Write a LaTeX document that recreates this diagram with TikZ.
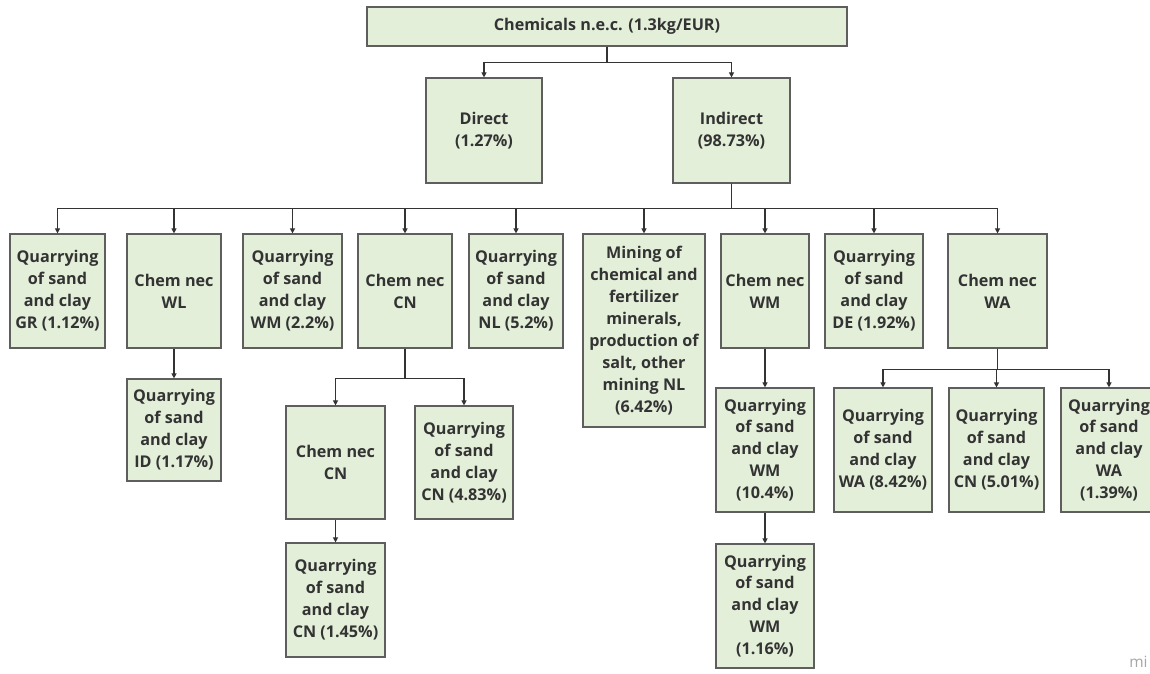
\documentclass[tikz,border=0pt]{standalone}
\usepackage{fontspec}
\setmainfont{Open Sans}
\usetikzlibrary{arrows.meta}
\definecolor{boxfill}{HTML}{E3EFD9}
\definecolor{boxline}{HTML}{5E5E5E}
\definecolor{txt}{HTML}{333333}
\begin{document}
\begin{tikzpicture}[
  x=0.025cm, y=-0.025cm,
  line width=0.85pt,
  every node/.style={font=\fontsize{11.5}{15.6}\selectfont\bfseries, text=txt},
  box/.style 2 args={draw=boxline, fill=boxfill, inner sep=0pt, align=center,
    minimum width=#1*0.025cm, minimum height=#2*0.025cm},
  arr/.style={draw=txt, -{Triangle[length=3.6pt,width=3.6pt]}}
]
\fill[white] (0,0) rectangle (1150,673);
\useasboundingbox (0,0) rectangle (1150,673);
% top and first split
\node[box={480}{39}] (top) at (607,26.5) {Chemicals n.e.c. (1.3kg/EUR)};
\node[box={116}{105}] (direct) at (484,130.5) {Direct\\(1.27\%)};
\node[box={117}{105}] (indirect) at (731.5,130.5) {Indirect\\(98.73\%)};
% second level
\node[box={95}{114}] (gr) at (57.5,291) {Quarrying\\of sand\\and clay\\GR (1.12\%)};
\node[box={94}{114}] (wl) at (174,291) {Chem nec\\WL};
\node[box={99}{114}] (wm) at (292.5,291) {Quarrying\\of sand\\and clay\\WM (2.2\%)};
\node[box={94}{114}] (cn) at (405,291) {Chem nec\\CN};
\node[box={94}{114}] (nl) at (516,291) {Quarrying\\of sand\\and clay\\NL (5.2\%)};
\node[box={122}{193}] (mining) at (644,330.5)
  {Mining of\\chemical and\\fertilizer\\minerals,\\production of\\salt, other\\mining NL\\(6.42\%)};
\node[box={88}{114}] (cwm) at (765,291) {Chem nec\\WM};
\node[box={98}{114}] (de) at (874,291) {Quarrying\\of sand\\and clay\\DE (1.92\%)};
\node[box={99}{114}] (cwa) at (997.5,291) {Chem nec\\WA};
% third level
\node[box={94}{102}] (id) at (174,430) {Quarrying\\of sand\\and clay\\ID (1.17\%)};
\node[box={99}{113}] (ccn) at (335.5,462.5) {Chem nec\\CN};
\node[box={98}{113}] (qcn) at (464,462.5) {Quarrying\\of sand\\and clay\\CN (4.83\%)};
\node[box={99}{114}] (qcn2) at (335.5,600) {Quarrying\\of sand\\and clay\\CN (1.45\%)};
\node[box={98}{124}] (qwm) at (765,450) {Quarrying\\of sand\\and clay\\WM\\(10.4\%)};
\node[box={98}{124}] (qwm2) at (765,606) {Quarrying\\of sand\\and clay\\WM\\(1.16\%)};
\node[box={98}{124}] (wa1) at (883,450) {Quarrying\\of sand\\and clay\\WA (8.42\%)};
\node[box={95}{124}] (wa2) at (996.5,450) {Quarrying\\of sand\\and clay\\CN (5.01\%)};
\node[box={96}{124}] (wa3) at (1109,450) {Quarrying\\of sand\\and clay\\WA\\(1.39\%)};
% connectors
\foreach \n in {direct,indirect}
  \draw[arr] (top.south) -- ++(0,16) -| (\n.north);
\foreach \n in {gr,wl,wm,cn,nl,mining,cwm,de,cwa}
  \draw[arr] (indirect.south) -- ++(0,25) -| (\n.north);
\foreach \n in {ccn,qcn}
  \draw[arr] (cn.south) -- ++(0,30) -| (\n.north);
\foreach \n in {wa1,wa2,wa3}
  \draw[arr] (cwa.south) -- ++(0,21) -| (\n.north);
\draw[arr] (wl.south) -- (id.north);
\draw[arr] (ccn.south) -- (qcn2.north);
\draw[arr] (cwm.south) -- (qwm.north);
\draw[arr] (qwm.south) -- (qwm2.north);
% watermark
\node[font=\fontsize{11}{12}\selectfont, text=black!35, anchor=west] (mark) at (1124,662) {mi};
\end{tikzpicture}
\end{document}
